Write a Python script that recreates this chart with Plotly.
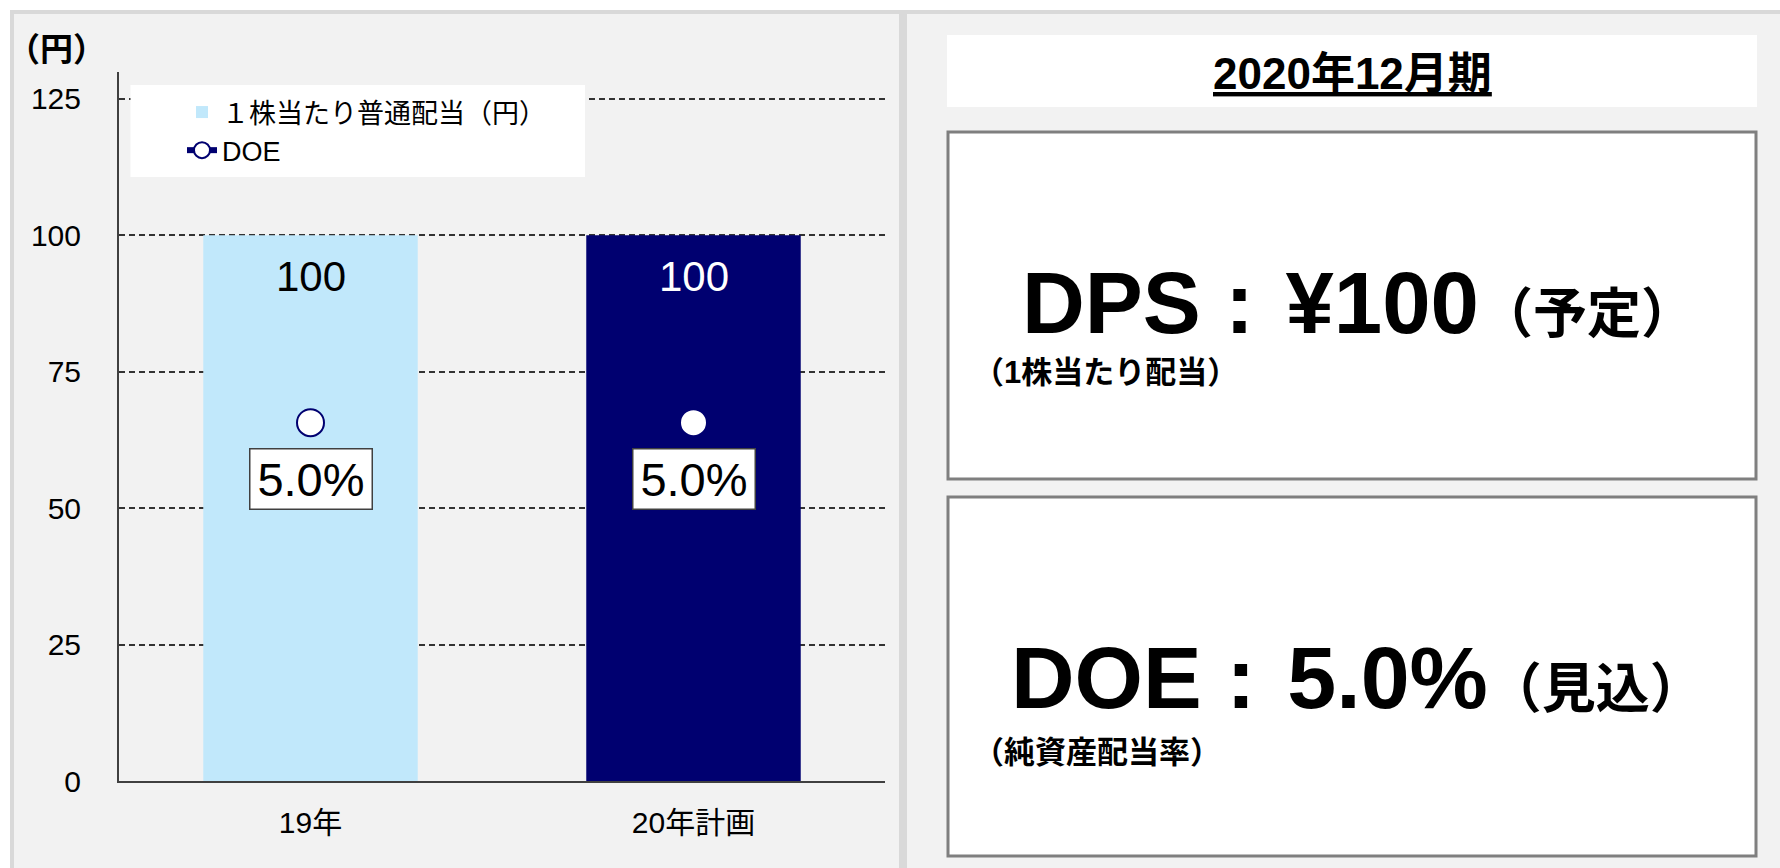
import plotly.graph_objects as go

# ---- data ----
categories = ["19年", "20年計画"]
dps = [100, 100]            # 1株当たり普通配当（円）
doe = [5.0, 5.0]            # DOE (%)
y_ticks = [0, 25, 50, 75, 100, 125]
bar_colors = ["#C1E8FB", "#000070"]
bar_label_colors = ["#000000", "#FFFFFF"]
legend_bar = "１株当たり普通配当（円）"
legend_doe = "DOE"
period_title = "2020年12月期"

W, H = 1780, 868
FONT = "Liberation Sans, Arial, Noto Sans CJK JP, sans-serif"
HAIR = "\u200a"


def px(x):
    return x / W


def py(y):
    return 1 - y / H


fig = go.Figure()

fig.add_trace(go.Bar(
    x=categories, y=dps, name=legend_bar, width=0.56,
    marker=dict(color=bar_colors, line=dict(width=0)),
    legendgroup="a", hoverinfo="skip",
))
fig.add_trace(go.Scatter(
    x=categories, y=doe, yaxis="y2", mode="markers", showlegend=False,
    marker=dict(size=27, color="white", line=dict(color="#000070", width=2)),
    hoverinfo="skip",
))
# legend entry for DOE (line + marker as in the reference legend)
fig.add_trace(go.Scatter(
    x=[None], y=[None], yaxis="y2", mode="lines+markers", name=legend_doe,
    legendgroup="b",
    line=dict(color="#000070", width=6),
    marker=dict(size=16, color="white", line=dict(color="#000070", width=2)),
))

annotations = []
# bar value labels
for c, v, col in zip(categories, dps, bar_label_colors):
    annotations.append(dict(
        x=c, y=v, xref="x", yref="y", text=f"{v:.0f}", showarrow=False,
        yanchor="middle", yshift=-41, font=dict(family=FONT, size=42, color=col),
    ))
# DOE labels in boxes
for c, v in zip(categories, doe):
    annotations.append(dict(
        x=c, y=v, xref="x", yref="y2", text=f"{v:.1f}%", showarrow=False,
        yanchor="middle", yshift=-56, bgcolor="white", bordercolor="#404040",
        borderwidth=1.5, width=121, height=59, borderpad=0,
        font=dict(family=FONT, size=47, color="black"),
    ))
# unit label
annotations.append(dict(
    x=px(57), y=py(47), xref="paper", yref="paper", text="<b>（円）</b>",
    showarrow=False, xanchor="center", yanchor="middle",
    font=dict(family="Noto Sans CJK JP, sans-serif", size=33, color="black"),
))
# right panel texts
annotations.append(dict(
    x=px(1352), y=py(73), xref="paper", yref="paper",
    text=f"<b>{period_title}</b>", showarrow=False,
    xanchor="center", yanchor="middle",
    font=dict(family=FONT, size=44, color="black", lineposition="under"),
))
annotations.append(dict(
    x=px(1020), y=py(302), xref="paper", yref="paper",
    text=f"<b>DPS : {HAIR}¥{dps[-1]}</b><span style='font-size:54px'><b>（予定）</b></span>",
    showarrow=False, xanchor="left", yanchor="middle",
    font=dict(family=FONT, size=87, color="black"),
))
annotations.append(dict(
    x=px(971), y=py(372), xref="paper", yref="paper",
    text="<b>（1株当たり配当）</b>", showarrow=False, xanchor="left", yanchor="middle",
    font=dict(family=FONT, size=31, color="black"),
))
annotations.append(dict(
    x=px(1009), y=py(677), xref="paper", yref="paper",
    text=f"<b>DOE : {HAIR}{doe[-1]:.1f}%</b><span style='font-size:54px'><b>（見込）</b></span>",
    showarrow=False, xanchor="left", yanchor="middle",
    font=dict(family=FONT, size=88, color="black"),
))
annotations.append(dict(
    x=px(971), y=py(752), xref="paper", yref="paper",
    text="<b>（純資産配当率）</b>", showarrow=False, xanchor="left", yanchor="middle",
    font=dict(family=FONT, size=31, color="black"),
))

shapes = [
    # outer frame
    dict(type="rect", xref="paper", yref="paper", x0=px(10), x1=1, y0=0, y1=py(10),
         fillcolor="#D9D9D9", line=dict(width=0), layer="below"),
    # left panel
    dict(type="rect", xref="paper", yref="paper", x0=px(14), x1=px(899), y0=0, y1=py(14),
         fillcolor="#F2F2F2", line=dict(width=0), layer="below"),
    # right panel
    dict(type="rect", xref="paper", yref="paper", x0=px(907), x1=1, y0=0, y1=py(14),
         fillcolor="#F2F2F2", line=dict(width=0), layer="below"),
    # title box
    dict(type="rect", xref="paper", yref="paper", x0=px(947), x1=px(1757), y0=py(107), y1=py(35),
         fillcolor="white", line=dict(width=0), layer="below"),
    # DPS box
    dict(type="rect", xref="paper", yref="paper", x0=px(948), x1=px(1756), y0=py(479), y1=py(132),
         fillcolor="white", line=dict(color="#7F7F7F", width=3), layer="below"),
    # DOE box
    dict(type="rect", xref="paper", yref="paper", x0=px(948), x1=px(1756), y0=py(856), y1=py(497),
         fillcolor="white", line=dict(color="#7F7F7F", width=3), layer="below"),
    # legend background
    dict(type="rect", xref="paper", yref="paper", x0=px(130.5), x1=px(585), y0=py(177), y1=py(85),
         fillcolor="white", line=dict(width=0), layer="above"),
]

fig.update_layout(
    width=W, height=H, margin=dict(l=0, r=0, t=0, b=0, pad=0, autoexpand=False),
    paper_bgcolor="white", plot_bgcolor="rgba(0,0,0,0)",
    font=dict(family=FONT, size=30, color="black"),
    showlegend=True,
    legend=dict(
        x=px(182), y=py(88), xanchor="left", yanchor="top",
        bgcolor="rgba(0,0,0,0)", font=dict(family=FONT, size=27, color="black"),
        tracegroupgap=8, traceorder="normal",
    ),
    xaxis=dict(
        domain=[px(119), px(885)], showline=True, linecolor="#404040", linewidth=2,
        ticks="", tickfont=dict(size=30), ticklabelstandoff=14, showgrid=False,
        fixedrange=True, automargin=False,
    ),
    yaxis=dict(
        domain=[py(781), py(71.5)], range=[0, 130], tickvals=y_ticks,
        showline=True, linecolor="#404040", linewidth=2, ticks="",
        showgrid=True, gridcolor="#333333", gridwidth=1.5, griddash="6px,4px",
        zeroline=False, tickfont=dict(size=30), ticklabelstandoff=30,
        fixedrange=True, automargin=False,
    ),
    yaxis2=dict(
        overlaying="y", range=[0, 9.9], visible=False, showgrid=False,
        fixedrange=True, automargin=False,
    ),
    annotations=annotations,
    shapes=shapes,
)

fig.write_html(
    "out.html",
    config={"displayModeBar": False},
    post_script="document.body.style.margin='0';document.body.style.overflow='hidden';",
)
